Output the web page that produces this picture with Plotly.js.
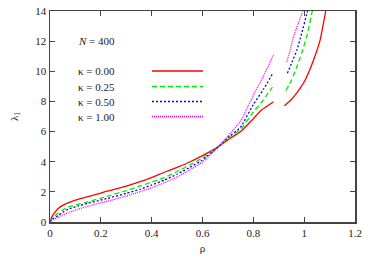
<!DOCTYPE html>
<html><head><meta charset="utf-8">
<script src="https://cdn.plot.ly/plotly-3.0.1.min.js"></script>
<style>html,body{margin:0;padding:0;background:#fff}#c{width:374px;height:267px}</style>
</head><body><div id="c"></div>
<script>
// kappa labels
const kappaLabels = ["κ = 0.00", "κ = 0.25", "κ = 0.50", "κ = 1.00"];
const colors = ["#ff0000", "#00ee00", "#0000ff", "#ff00ff"];
const dashes = ["solid", "5px,3px", "2px,2px", "1px,1px"];

// low-density branch (rho, lambda1)
const rhoA0 = [0, 0.006, 0.015, 0.031, 0.05, 0.071, 0.11, 0.15, 0.2, 0.228, 0.3, 0.354, 0.4, 0.45, 0.5, 0.55, 0.6, 0.663, 0.7, 0.75, 0.8, 0.83, 0.86, 0.879];
const lamA0 = [0, 0.3, 0.55, 0.88, 1.1, 1.27, 1.5, 1.68, 1.92, 2.06, 2.38, 2.68, 2.95, 3.3, 3.62, 3.98, 4.4, 5.0, 5.45, 6.0, 6.85, 7.4, 7.75, 7.98];
const rhoA1 = [0, 0.006, 0.015, 0.031, 0.05, 0.071, 0.11, 0.15, 0.2, 0.228, 0.3, 0.354, 0.4, 0.45, 0.5, 0.55, 0.6, 0.663, 0.7, 0.75, 0.8, 0.83, 0.875];
const lamA1 = [0, 0.18, 0.35, 0.58, 0.8, 0.98, 1.17, 1.35, 1.58, 1.72, 2.08, 2.39, 2.65, 2.95, 3.35, 3.78, 4.25, 5.0, 5.55, 6.15, 7.3, 7.9, 8.95];
const rhoA2 = [0, 0.006, 0.015, 0.031, 0.05, 0.071, 0.11, 0.15, 0.2, 0.228, 0.3, 0.354, 0.4, 0.45, 0.5, 0.55, 0.6, 0.663, 0.7, 0.75, 0.8, 0.84, 0.875];
const lamA2 = [0, 0.13, 0.26, 0.42, 0.65, 0.84, 1.06, 1.25, 1.46, 1.57, 1.9, 2.17, 2.45, 2.78, 3.17, 3.62, 4.12, 5.0, 5.6, 6.3, 7.8, 8.8, 9.82];
const rhoA3 = [0, 0.006, 0.015, 0.031, 0.05, 0.071, 0.11, 0.15, 0.2, 0.228, 0.3, 0.354, 0.4, 0.45, 0.5, 0.55, 0.6, 0.663, 0.7, 0.75, 0.8, 0.84, 0.879];
const lamA3 = [0, 0.09, 0.18, 0.29, 0.47, 0.62, 0.84, 1.05, 1.28, 1.39, 1.72, 2.01, 2.28, 2.6, 2.98, 3.45, 3.98, 5.0, 5.7, 6.7, 8.4, 9.7, 11.08];

// high-density branch
const rhoB0 = [0.922, 0.945, 0.965, 0.985, 1.004, 1.037, 1.063, 1.085, 1.09];
const lamB0 = [7.72, 8.05, 8.43, 8.9, 9.42, 10.75, 12.08, 14.0, 14.4];
const rhoB1 = [0.928, 0.95, 0.971, 0.99, 1.01, 1.032, 1.036];
const lamB1 = [8.71, 9.4, 10.3, 11.2, 12.3, 14.0, 14.3];
const rhoB2 = [0.934, 0.952, 0.971, 0.99, 1.013, 1.016];
const lamB2 = [9.87, 10.6, 11.4, 12.5, 14.0, 14.3];
const rhoB3 = [0.932, 0.945, 0.958, 0.975, 0.995, 0.998];
const lamB3 = [10.64, 11.4, 12.3, 13.1, 14.0, 14.3];

const xTicks = [0, 0.2, 0.4, 0.6, 0.8, 1, 1.2];
const xTickText = ["0", "0.2", "0.4", "0.6", "0.8", "1", "1.2"];
const yTicks = [0, 2, 4, 6, 8, 10, 12, 14];

const A = [[rhoA0, lamA0], [rhoA1, lamA1], [rhoA2, lamA2], [rhoA3, lamA3]];
const B = [[rhoB0, lamB0], [rhoB1, lamB1], [rhoB2, lamB2], [rhoB3, lamB3]];
const traces = [];
for (let i = 0; i < 4; i++) {
  const ln = {color: colors[i], width: 1.3, dash: dashes[i], shape: 'spline', smoothing: 0.4};
  traces.push({x: A[i][0], y: A[i][1], mode: 'lines', line: ln, showlegend: false, hoverinfo: 'skip'});
  traces.push({x: B[i][0], y: B[i][1], mode: 'lines', line: ln, showlegend: false, hoverinfo: 'skip'});
}

const font = {family: 'Times New Roman, Liberation Serif, DejaVu Serif, serif', size: 11, color: '#222'};
const W = 305, H = 211;
const shapes = [], annotations = [];
annotations.push({xref: 'paper', yref: 'paper', x: (76 - 50) / W, y: (222 - 41) / H, xanchor: 'left', yanchor: 'middle',
  text: '<i>N</i> = 400', showarrow: false, font: font});
const rowsY = [71, 86.5, 101.5, 116.5];
for (let i = 0; i < 4; i++) {
  const yp = (222 - rowsY[i]) / H;
  annotations.push({xref: 'paper', yref: 'paper', x: (76 - 50) / W, y: yp, xanchor: 'left', yanchor: 'middle',
    text: kappaLabels[i], showarrow: false, font: font});
  shapes.push({type: 'line', xref: 'paper', yref: 'paper', x0: (152 - 50) / W, x1: (203 - 50) / W, y0: yp, y1: yp,
    line: {color: colors[i], width: 1.3, dash: dashes[i]}});
}

const axisCommon = {showgrid: false, zeroline: false, showline: true, linecolor: '#444', linewidth: 1.5, mirror: 'ticks',
  ticks: 'inside', ticklen: 5, tickcolor: '#444', tickwidth: 1, tickfont: font};
const layout = {
  width: 374, height: 267, margin: {l: 50, r: 19, t: 11, b: 45},
  font: font,
  paper_bgcolor: '#fff', plot_bgcolor: '#fff', showlegend: false,
  xaxis: Object.assign({}, axisCommon, {range: [0, 1.2], tickvals: xTicks, ticktext: xTickText,
    title: {text: 'ρ', font: font, standoff: 6}}),
  yaxis: Object.assign({}, axisCommon, {range: [0, 14], tickvals: yTicks,
    title: {text: 'λ<sub>1</sub>', font: font, standoff: 14}}),
  shapes: shapes, annotations: annotations
};
Plotly.newPlot('c', traces, layout, {staticPlot: true, displayModeBar: false});
</script></body></html>
